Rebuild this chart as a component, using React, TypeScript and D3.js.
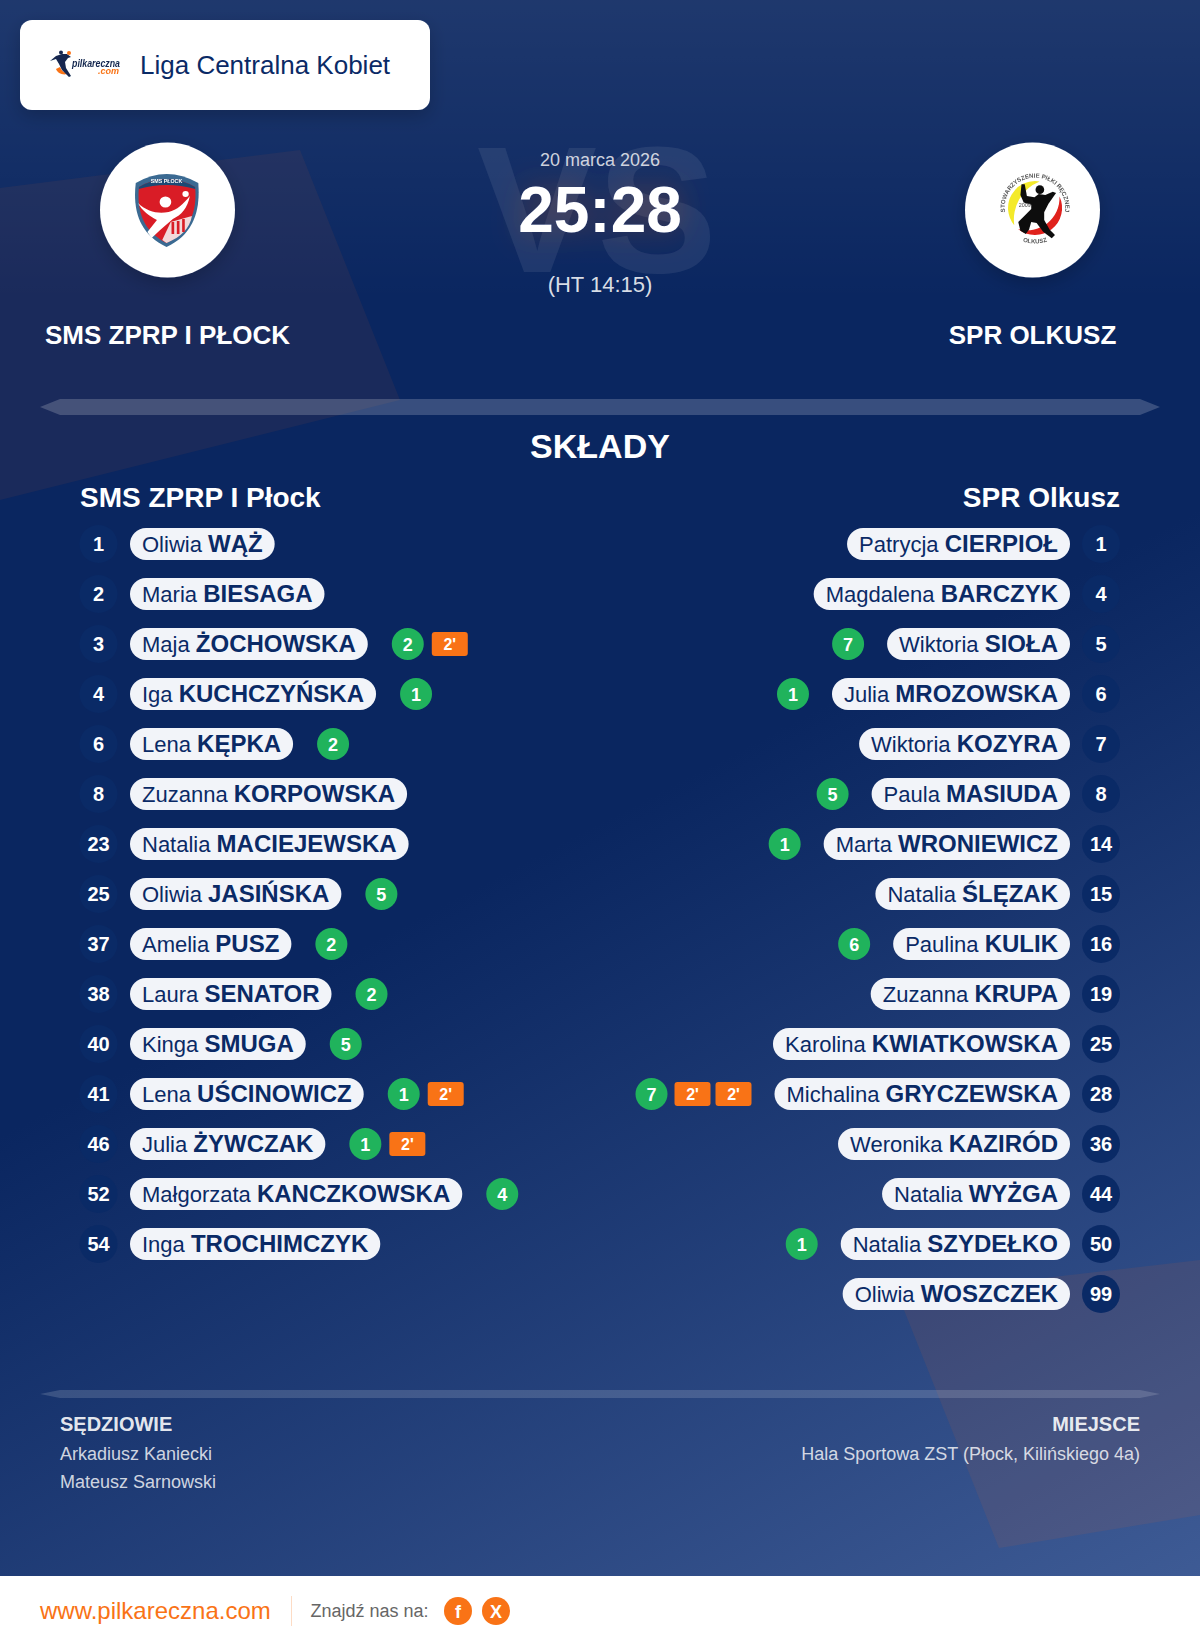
import React, { useEffect, useRef } from 'react';
import * as d3 from 'd3';

const homeNumbers = [1, 2, 3, 4, 6, 8, 23, 25, 37, 38, 40, 41, 46, 52, 54];
const homeFirst = ['Oliwia', 'Maria', 'Maja', 'Iga', 'Lena', 'Zuzanna', 'Natalia', 'Oliwia', 'Amelia', 'Laura', 'Kinga', 'Lena', 'Julia', 'Małgorzata', 'Inga'];
const homeLast = ['WĄŻ', 'BIESAGA', 'ŻOCHOWSKA', 'KUCHCZYŃSKA', 'KĘPKA', 'KORPOWSKA', 'MACIEJEWSKA', 'JASIŃSKA', 'PUSZ', 'SENATOR', 'SMUGA', 'UŚCINOWICZ', 'ŻYWCZAK', 'KANCZKOWSKA', 'TROCHIMCZYK'];
const homeGoals = [0, 0, 2, 1, 2, 0, 0, 5, 2, 2, 5, 1, 1, 4, 0];
const homeSuspensions = [0, 0, 1, 0, 0, 0, 0, 0, 0, 0, 0, 1, 1, 0, 0];

const awayNumbers = [1, 4, 5, 6, 7, 8, 14, 15, 16, 19, 25, 28, 36, 44, 50, 99];
const awayFirst = ['Patrycja', 'Magdalena', 'Wiktoria', 'Julia', 'Wiktoria', 'Paula', 'Marta', 'Natalia', 'Paulina', 'Zuzanna', 'Karolina', 'Michalina', 'Weronika', 'Natalia', 'Natalia', 'Oliwia'];
const awayLast = ['CIERPIOŁ', 'BARCZYK', 'SIOŁA', 'MROZOWSKA', 'KOZYRA', 'MASIUDA', 'WRONIEWICZ', 'ŚLĘZAK', 'KULIK', 'KRUPA', 'KWIATKOWSKA', 'GRYCZEWSKA', 'KAZIRÓD', 'WYŻGA', 'SZYDEŁKO', 'WOSZCZEK'];
const awayGoals = [0, 0, 7, 1, 0, 5, 1, 0, 6, 0, 0, 7, 0, 0, 1, 0];
const awaySuspensions = [0, 0, 0, 0, 0, 0, 0, 0, 0, 0, 0, 2, 0, 0, 0, 0];

const referees = ['Arkadiusz Kaniecki', 'Mateusz Sarnowski'];

const W = 1200;
const H = 1646;
const font = '"Liberation Sans", Arial, sans-serif';
const navy = '#0a2a66';
const orange = '#f97316';

const App: React.FC = () => {
  const svgRef = useRef<SVGSVGElement>(null);

  useEffect(() => {
    if (!svgRef.current) return;
    const svg = d3.select(svgRef.current);
    svg.selectAll('*').remove();

    const defs = svg.append('defs');

    // background: angled gradient, with a light band on top of it
    const bg = defs.append('linearGradient').attr('id', 'bg')
      .attr('gradientUnits', 'userSpaceOnUse')
      .attr('x1', 0).attr('y1', 1136).attr('x2', 466).attr('y2', 2028);
    bg.append('stop').attr('offset', '0%').attr('stop-color', '#0a2660');
    bg.append('stop').attr('offset', '100%').attr('stop-color', '#415e98');

    const topBand = defs.append('linearGradient').attr('id', 'topBand')
      .attr('x1', 0).attr('y1', 0).attr('x2', 0).attr('y2', 1);
    topBand.append('stop').attr('offset', '0%').attr('stop-color', '#fff').attr('stop-opacity', 0.085);
    topBand.append('stop').attr('offset', '100%').attr('stop-color', '#fff').attr('stop-opacity', 0);

    const shadow = defs.append('filter').attr('id', 'shadow')
      .attr('x', '-30%').attr('y', '-30%').attr('width', '160%').attr('height', '170%');
    shadow.append('feDropShadow').attr('dx', 0).attr('dy', 6).attr('stdDeviation', 9)
      .attr('flood-color', '#000').attr('flood-opacity', 0.2);

    const glow = defs.append('filter').attr('id', 'glow')
      .attr('x', '-40%').attr('y', '-60%').attr('width', '180%').attr('height', '220%');
    glow.append('feDropShadow').attr('dx', 0).attr('dy', 0).attr('stdDeviation', 15)
      .attr('flood-color', '#ff6b1a').attr('flood-opacity', 0.3);

    const soft = defs.append('filter').attr('id', 'soft');
    soft.append('feGaussianBlur').attr('stdDeviation', 0.55);

    // text paths of the Olkusz badge
    defs.append('path').attr('id', 'ringTop')
      .attr('d', 'M 1009.6 224 A 28 28 0 1 1 1055.4 224');
    defs.append('path').attr('id', 'ringBottom')
      .attr('d', 'M 1010 232 A 33 33 0 0 0 1055 232');

    svg.append('rect').attr('width', W).attr('height', H).attr('fill', 'url(#bg)');
    svg.append('rect').attr('width', W).attr('height', 300).attr('fill', 'url(#topBand)');

    // decorative shapes
    const line = d3.line();
    svg.append('path')
      .attr('d', line([[0, 188], [300, 150], [400, 400], [0, 500]]) + 'Z')
      .attr('fill', '#ff6b1a').attr('fill-opacity', 0.065);
    svg.append('path')
      .attr('d', line([[898, 1295], [1200, 1260], [1200, 1515], [999, 1548]]) + 'Z')
      .attr('fill', '#ff6b1a').attr('fill-opacity', 0.085);

    // dividers
    const divider = (y: number, h: number, inset: number, alpha: number) => {
      svg.append('path')
        .attr('d', line([[40, y + h / 2], [40 + inset, y], [1160 - inset, y], [1160, y + h / 2], [1160 - inset, y + h], [40 + inset, y + h]]) + 'Z')
        .attr('fill', '#fff').attr('fill-opacity', alpha);
    };
    divider(399, 16, 20, 0.19);
    divider(1390, 8, 20, 0.15);

    const text = (s: string, x: number, y: number, size: number, fill: string, weight = 'normal', anchor = 'start') =>
      svg.append('text').text(s)
        .attr('x', x).attr('y', y)
        .attr('font-family', font).attr('font-size', size)
        .attr('font-weight', weight).attr('fill', fill)
        .attr('text-anchor', anchor);

    // league card
    svg.append('rect').attr('x', 20).attr('y', 20).attr('width', 410).attr('height', 90)
      .attr('rx', 12).attr('fill', '#fff').attr('filter', 'url(#shadow)');
    text('Liga Centralna Kobiet', 140, 74, 26, navy);

    // pilkareczna logo
    const logo = svg.append('g').attr('filter', 'url(#soft)');
    logo.append('path')
      .attr('d', 'M56 69 C58 74 64 76 70 73 C66 74 62 72 60 67 Z')
      .attr('fill', orange);
    logo.append('path')
      .attr('d', 'M50 61 L56 56 L62 54 L67 54 L71 57 L68 58 L65 62 L66 68 L71 76 L69 77 L62 70 L59 64 L56 59 Z')
      .attr('fill', '#14284f');
    logo.append('circle').attr('cx', 61).attr('cy', 52.5).attr('r', 2).attr('fill', '#14284f');
    logo.append('circle').attr('cx', 69).attr('cy', 53).attr('r', 2).attr('fill', orange);
    logo.append('text').text('pilkareczna').attr('x', 72).attr('y', 67)
      .attr('textLength', 48).attr('lengthAdjust', 'spacingAndGlyphs')
      .attr('font-family', font).attr('font-size', 10).attr('font-weight', 'bold')
      .attr('font-style', 'italic').attr('fill', '#14284f');
    logo.append('text').text('.com').attr('x', 119).attr('y', 74).attr('text-anchor', 'end')
      .attr('font-family', font).attr('font-size', 9).attr('font-weight', 'bold')
      .attr('font-style', 'italic').attr('fill', orange);

    // team crests
    [167.5, 1032.5].forEach(cx => {
      svg.append('circle').attr('cx', cx).attr('cy', 210).attr('r', 67.5)
        .attr('fill', '#fff').attr('filter', 'url(#shadow)');
    });

    const shield = svg.append('g').attr('filter', 'url(#soft)')
      .attr('transform', 'translate(166.5,0) scale(1.06,1) translate(-164,0)');
    shield.append('path')
      .attr('d', 'M135 183 Q164 165 194 183 C196 210 190 234 164 247 C138 234 132 210 135 183 Z')
      .attr('fill', '#3a6a92');
    shield.append('path')
      .attr('d', 'M138 187 Q164 171 191 187 C193 210 187 231 164 243 C141 231 136 210 138 187 Z')
      .attr('fill', '#d91f26');
    shield.append('path')
      .attr('d', 'M138 187 Q164 171 191 187 L191 189 Q164 181 138 189 Z')
      .attr('fill', '#1f4a74');
    shield.append('text').text('SMS PŁOCK').attr('x', 164).attr('y', 183.5).attr('text-anchor', 'middle')
      .attr('font-family', font).attr('font-size', 5).attr('font-weight', 'bold').attr('fill', '#fff');
    shield.append('circle').attr('cx', 163).attr('cy', 202).attr('r', 5.5).attr('fill', '#fff');
    shield.append('circle').attr('cx', 182).attr('cy', 194).attr('r', 3).attr('fill', '#fff');
    shield.append('path')
      .attr('d', 'M137 203 C146 212 156 214 166 212 C174 210 180 204 186 196 C184 208 178 215 170 219 L158 230 L150 238 L146 232 L155 220 C148 216 141 211 137 203 Z')
      .attr('fill', '#fff');
    shield.append('path')
      .attr('d', 'M168 222 L188 216 C186 228 178 237 164 243 L160 240 Z')
      .attr('fill', '#f2d9da');
    shield.append('path')
      .attr('d', 'M170 222 V234 M175 221 V234 M180 219 V232')
      .attr('stroke', '#d91f26').attr('stroke-width', 2.5);

    const badge = svg.append('g').attr('filter', 'url(#soft)')
      .attr('transform', 'translate(1035,208) scale(1.08) translate(-1032.5,-208)');
    badge.append('path')
      .attr('d', 'M1013.3 224 A 25 25 0 0 1 1036.8 183.4 A 38 38 0 0 0 1013.3 224 Z')
      .attr('fill', '#f4ea2a');
    badge.append('path')
      .attr('d', 'M1055.2 197.4 A 25 25 0 0 1 1016.8 227.4 A 30 30 0 0 0 1055.2 197.4 Z')
      .attr('fill', '#e0201f');
    badge.append('circle').attr('cx', 1037).attr('cy', 191).attr('r', 4).attr('fill', '#0d0d0d');
    badge.append('path')
      .attr('d', 'M1020 186 L1023 186 L1025 197 L1032 198 L1036 195 L1042 196 L1049 193 L1052 194 L1045 204 L1041 212 L1041 219 L1046 228 L1051 233 L1048 236 L1040 230 L1034 222 L1029 221 L1027 228 L1024 232 L1019 229 L1017 221 L1024 214 L1029 209 L1029 205 L1022 203 L1019 196 Z')
      .attr('fill', '#0d0d0d');
    const ringText = (id: string, s: string) => {
      badge.append('text')
        .attr('font-family', font).attr('font-size', 5.6).attr('font-weight', 'bold').attr('fill', '#555')
        .attr('text-anchor', 'middle')
        .append('textPath').attr('href', '#' + id).attr('startOffset', '50%').text(s);
    };
    ringText('ringTop', 'STOWARZYSZENIE PIŁKI RĘCZNEJ');
    ringText('ringBottom', 'OLKUSZ');
    badge.append('text').text('2009').attr('x', 1023).attr('y', 207).attr('text-anchor', 'middle')
      .attr('font-family', font).attr('font-size', 5).attr('fill', '#444');

    // score block
    text('VS', 597, 272, 180, '#fff', 'bold', 'middle').attr('fill-opacity', 0.08);
    text('20 marca 2026', 600, 166, 18, '#fff', 'normal', 'middle').attr('fill-opacity', 0.8);
    text('25:28', 600, 232, 64, '#fff', 'bold', 'middle').attr('filter', 'url(#glow)');
    text('(HT 14:15)', 600, 292, 22, '#fff', 'normal', 'middle').attr('fill-opacity', 0.85);

    text('SMS ZPRP I PŁOCK', 167.5, 344, 26, '#fff', 'bold', 'middle');
    text('SPR OLKUSZ', 1032.5, 344, 26, '#fff', 'bold', 'middle');

    text('SKŁADY', 600, 458, 34, '#fff', 'bold', 'middle');
    text('SMS ZPRP I Płock', 80, 507, 28, '#fff', 'bold');
    text('SPR Olkusz', 1120, 507, 28, '#fff', 'bold', 'end');

    // squads
    const rowY = d3.scaleLinear().domain([0, 15]).range([544, 1294]);

    const drawTeam = (
      numbers: number[], first: string[], last: string[], goals: number[], suspensions: number[], side: 'home' | 'away'
    ) => {
      const goalGap = side === 'home' ? 8 : 7;
      const suspGap = 5;
      numbers.forEach((num, i) => {
        const y = rowY(i);
        const g = svg.append('g').attr('class', 'row-' + side);
        const numX = side === 'home' ? 98.5 : 1101;
        g.append('circle').attr('cx', numX).attr('cy', y).attr('r', 19).attr('fill', navy);
        g.append('text').text(num).attr('x', numX).attr('y', y + 7).attr('text-anchor', 'middle')
          .attr('font-family', font).attr('font-size', 20).attr('font-weight', 'bold').attr('fill', '#fff');

        const pill = g.append('rect').attr('y', y - 16).attr('height', 32).attr('rx', 16).attr('fill', '#f2f4f9');
        const label = g.append('text').attr('y', y + 7.5)
          .attr('font-family', font).attr('font-size', 22).attr('fill', navy);
        label.append('tspan').text(first[i] + ' ');
        label.append('tspan').text(last[i]).attr('font-weight', 'bold').attr('font-size', 24);
        const tw = (label.node() as SVGTextElement).getComputedTextLength();
        const pw = tw + 24;
        const px = side === 'home' ? 130 : 1070 - pw;
        pill.attr('x', px).attr('width', pw);
        label.attr('x', px + 12);

        const count = suspensions[i];
        if (!goals[i] && !count) return;
        const total = 32 + (count ? goalGap + count * 36 + (count - 1) * suspGap : 0);
        let x = side === 'home' ? px + pw + 24 : px - 23 - total;
        g.append('circle').attr('cx', x + 16).attr('cy', y).attr('r', 16).attr('fill', '#20b35c');
        g.append('text').text(goals[i]).attr('x', x + 16).attr('y', y + 6.5).attr('text-anchor', 'middle')
          .attr('font-family', font).attr('font-size', 18).attr('font-weight', 'bold').attr('fill', '#fff');
        x += 32 + goalGap;
        d3.range(count).forEach(() => {
          g.append('rect').attr('x', x).attr('y', y - 12).attr('width', 36).attr('height', 24).attr('rx', 3).attr('fill', orange);
          g.append('text').text("2'").attr('x', x + 18).attr('y', y + 6).attr('text-anchor', 'middle')
            .attr('font-family', font).attr('font-size', 16).attr('font-weight', 'bold').attr('fill', '#fff');
          x += 36 + suspGap;
        });
      });
    };
    drawTeam(homeNumbers, homeFirst, homeLast, homeGoals, homeSuspensions, 'home');
    drawTeam(awayNumbers, awayFirst, awayLast, awayGoals, awaySuspensions, 'away');

    // officials and venue
    text('SĘDZIOWIE', 60, 1431, 20, '#fff', 'bold').attr('fill-opacity', 0.9);
    referees.forEach((r, i) => text(r, 60, 1460 + i * 28, 18, '#fff').attr('fill-opacity', 0.8));
    text('MIEJSCE', 1140, 1431, 20, '#fff', 'bold', 'end').attr('fill-opacity', 0.9);
    text('Hala Sportowa ZST (Płock, Kilińskiego 4a)', 1140, 1460, 18, '#fff', 'normal', 'end').attr('fill-opacity', 0.8);

    // footer
    svg.append('rect').attr('y', 1576).attr('width', W).attr('height', 70).attr('fill', '#fff');
    text('www.pilkareczna.com', 40, 1619, 24, orange);
    svg.append('line').attr('x1', 291.5).attr('x2', 291.5).attr('y1', 1596).attr('y2', 1626)
      .attr('stroke', orange).attr('stroke-opacity', 0.25);
    text('Znajdź nas na:', 310.5, 1617, 18, '#666');
    [['f', 458], ['X', 496]].forEach(([s, cx]) => {
      svg.append('circle').attr('cx', cx as number).attr('cy', 1611).attr('r', 14).attr('fill', orange);
      text(s as string, cx as number, 1617.5, 18, '#fff', 'bold', 'middle');
    });
  }, []);

  return (
    <svg
      ref={svgRef}
      width={W}
      height={H}
      viewBox={`0 0 ${W} ${H}`}
      style={{ position: 'absolute', top: 0, left: 0, display: 'block' }}
    />
  );
};

export default App;
